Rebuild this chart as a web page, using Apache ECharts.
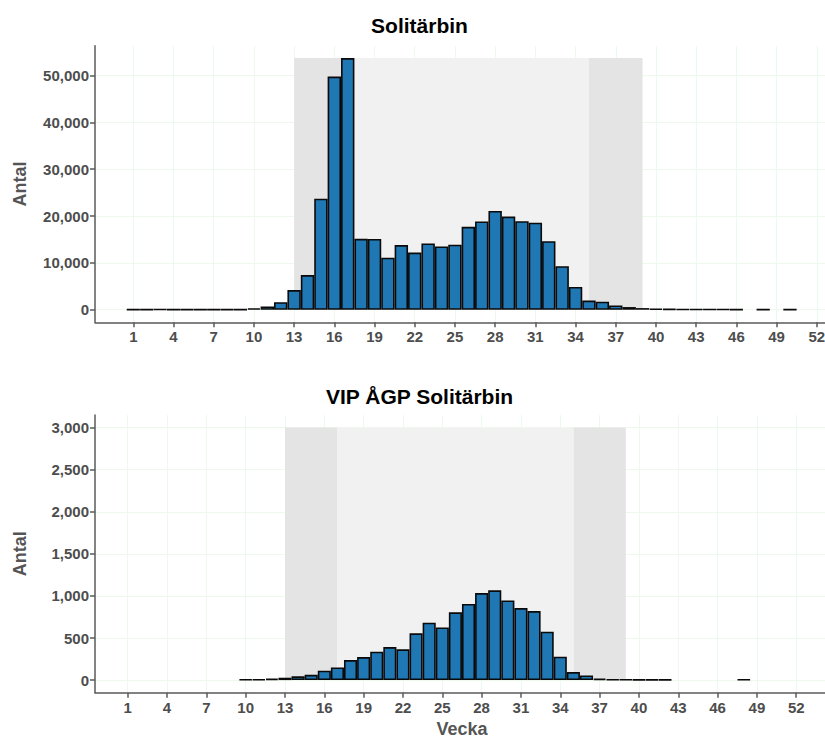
<!DOCTYPE html>
<html><head><meta charset="utf-8">
<script src="https://cdn.jsdelivr.net/npm/echarts@6/dist/echarts.min.js"></script>
<style>html,body{margin:0;padding:0;background:#fff}#c{width:825px;height:738px}</style>
</head><body><div id="c"></div>
<script>
// ---- data ----
const weeksTop = [1,2,3,4,5,6,7,8,9,10,11,12,13,14,15,16,17,18,19,20,21,22,23,24,25,26,27,28,29,30,31,32,33,34,35,36,37,38,39,40,41,42,43,44,45,46,48,50];
const valuesTop = [60,50,80,50,40,50,40,50,60,280,700,1600,4200,7400,23700,49800,53750,15150,15100,11100,13800,12200,14150,13500,13900,17700,18850,21100,19900,18900,18600,14650,9300,4850,1950,1700,920,570,350,220,150,120,100,80,70,60,40,30];
const weeksVip = [10,11,12,13,14,15,16,17,18,19,20,21,22,23,24,25,26,27,28,29,30,31,32,33,34,35,36,37,38,39,40,41,42,48];
const valuesVip = [8,8,16,28,44,63,111,150,238,273,337,392,365,555,682,626,805,904,1034,1066,947,856,820,575,277,95,55,16,8,6,5,5,5,6];
const tickWeeks = [1,4,7,10,13,16,19,22,25,28,31,34,37,40,43,46,49,52];
const yTicksTop = [0,10000,20000,30000,40000,50000];
const yTicksVip = [0,500,1000,1500,2000,2500,3000];
const shadeDark = [[13,17],[35,39]];
const shadeLight = [[17,35]];
const shadeMaxTop = 53750;
const shadeMaxVip = 3000;
const titleTop = 'Solitärbin';
const titleVip = 'VIP ÅGP Solitärbin';
const yName = 'Antal';
const xName = 'Vecka';

// ---- layout ----
const FONT = '"Liberation Sans", Arial, sans-serif';
const LBL = '#4d4d4d';
const gTop = {left:95, top:45.7, width:762, height:276.6, xmin:-1.858, xmax:55, ymin:-2685, ymax:56385};
const gVip = {left:95, top:415, width:734, height:277.7, xmin:-1.494, xmax:54.5, ymin:-150, ymax:3150};

function xAxisCfg(g, idx, name) {
  return {
    type:'value', gridIndex:idx, min:g.xmin, max:g.xmax,
    name: name || '', nameLocation:'middle', nameGap:27,
    nameTextStyle:{fontFamily:FONT, fontWeight:'bold', fontSize:18, color:'#555'},
    axisLine:{show:true, onZero:false, lineStyle:{color:'#5a5a5a', width:1.5}},
    axisTick:{show:true, length:5, customValues:tickWeeks, lineStyle:{color:'#5a5a5a', width:1.5}},
    axisLabel:{customValues:tickWeeks, margin:7, fontFamily:FONT, fontWeight:'bold', fontSize:15, color:LBL, hideOverlap:false},
    splitLine:{show:true, lineStyle:{color:'#eef9ee', width:1}}
  };
}
function yAxisCfg(g, idx, ticks) {
  return {
    type:'value', gridIndex:idx, min:g.ymin, max:g.ymax,
    name: yName, nameLocation:'middle', nameGap:66, nameRotate:90,
    nameTextStyle:{fontFamily:FONT, fontWeight:'bold', fontSize:18, color:'#555'},
    axisLine:{show:true, onZero:false, lineStyle:{color:'#5a5a5a', width:1.5}},
    axisTick:{show:true, length:5, customValues:ticks, lineStyle:{color:'#5a5a5a', width:1.5}},
    axisLabel:{customValues:ticks, margin:6, fontFamily:FONT, fontWeight:'bold', fontSize:15, color:LBL,
      formatter:v => Math.round(v).toLocaleString('en-US')},
    splitLine:{show:true, lineStyle:{color:'#eef9ee', width:1}}
  };
}
function shadeSeries(idx, ymax) {
  const d = [];
  shadeDark.forEach(r => d.push([{xAxis:r[0], yAxis:0, itemStyle:{color:'#e4e4e4'}}, {xAxis:r[1], yAxis:ymax}]));
  shadeLight.forEach(r => d.push([{xAxis:r[0], yAxis:0, itemStyle:{color:'#f1f1f1'}}, {xAxis:r[1], yAxis:ymax}]));
  return {type:'line', xAxisIndex:idx, yAxisIndex:idx, data:[[tickWeeks[0],0]], symbol:'none', lineStyle:{opacity:0}, z:1, silent:true,
    markArea:{silent:true, data:d}};
}
function barSeries(idx, g, weeks, vals) {
  return {type:'bar', xAxisIndex:idx, yAxisIndex:idx,
    data: weeks.map((w,i) => [w, vals[i]]),
    barWidth: g.width/(g.xmax-g.xmin),
    itemStyle:{color:'#1F77B4', borderColor:'#0a0a0a', borderWidth:1.6}, z:3, silent:true};
}

const chart = echarts.init(document.getElementById('c'), null, {renderer:'svg'});
chart.setOption({
  animation:false,
  backgroundColor:'#fff',
  grid:[
    {left:gTop.left, top:gTop.top, width:gTop.width, height:gTop.height, outerBoundsMode:'none', containLabel:false},
    {left:gVip.left, top:gVip.top, width:gVip.width, height:gVip.height, outerBoundsMode:'none', containLabel:false}
  ],
  xAxis:[xAxisCfg(gTop,0,''), xAxisCfg(gVip,1,xName)],
  yAxis:[yAxisCfg(gTop,0,yTicksTop), yAxisCfg(gVip,1,yTicksVip)],
  series:[
    shadeSeries(0, shadeMaxTop), barSeries(0, gTop, weeksTop, valuesTop),
    shadeSeries(1, shadeMaxVip), barSeries(1, gVip, weeksVip, valuesVip)
  ],
  graphic:[
    {type:'text', x:419.5, y:25, style:{text:titleTop, font:'bold 21px '+FONT, fill:'#000', textAlign:'center', textVerticalAlign:'middle'}},
    {type:'text', x:419.5, y:396, style:{text:titleVip, font:'bold 21px '+FONT, fill:'#000', textAlign:'center', textVerticalAlign:'middle'}}
  ]
});
</script></body></html>
